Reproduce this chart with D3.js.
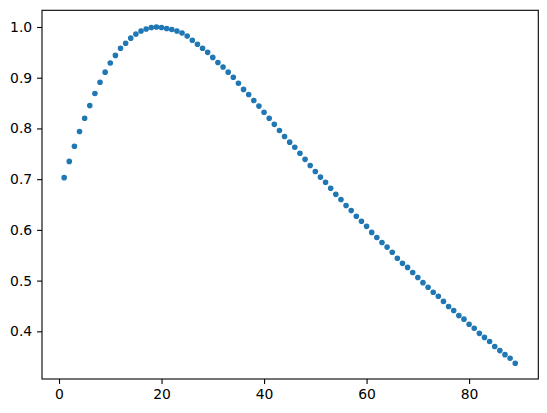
<!DOCTYPE html>
<html>
<head>
<meta charset="utf-8">
<script src="https://cdn.jsdelivr.net/npm/d3@7"></script>
<style>
body { margin: 0; background: #fff; }
svg { display: block; }
</style>
</head>
<body>
<script>
var xValues = [1, 2, 3, 4, 5, 6, 7, 8, 9, 10, 11, 12, 13, 14, 15, 16, 17, 18, 19, 20,
  21, 22, 23, 24, 25, 26, 27, 28, 29, 30, 31, 32, 33, 34, 35, 36, 37, 38, 39, 40,
  41, 42, 43, 44, 45, 46, 47, 48, 49, 50, 51, 52, 53, 54, 55, 56, 57, 58, 59, 60,
  61, 62, 63, 64, 65, 66, 67, 68, 69, 70, 71, 72, 73, 74, 75, 76, 77, 78, 79, 80,
  81, 82, 83, 84, 85, 86, 87, 88, 89];

var yValues = [0.703, 0.735, 0.765, 0.794, 0.820, 0.845, 0.869, 0.891, 0.911, 0.929,
  0.944, 0.958, 0.968, 0.978, 0.986, 0.992, 0.996, 0.999, 1.000, 0.999,
  0.997, 0.995, 0.992, 0.988, 0.982, 0.974, 0.966, 0.958, 0.950, 0.940,
  0.930, 0.921, 0.911, 0.901, 0.889, 0.877, 0.867, 0.855, 0.844, 0.832,
  0.820, 0.808, 0.796, 0.784, 0.773, 0.763, 0.751, 0.739, 0.727, 0.715,
  0.704, 0.694, 0.682, 0.670, 0.660, 0.648, 0.638, 0.627, 0.617, 0.607,
  0.595, 0.585, 0.575, 0.566, 0.556, 0.544, 0.534, 0.526, 0.516, 0.506,
  0.496, 0.487, 0.477, 0.469, 0.459, 0.449, 0.441, 0.431, 0.424, 0.414,
  0.406, 0.396, 0.388, 0.380, 0.370, 0.362, 0.354, 0.347, 0.337];

var xTicks = [0, 20, 40, 60, 80];
var yTicks = [0.4, 0.5, 0.6, 0.7, 0.8, 0.9, 1.0];

var width = 547, height = 413;
// plot box (window.top is taken, so keep names distinct)
var boxLeft = 42, boxRight = 538.3, boxTop = 10.3, boxBottom = 379;

var svg = d3.select("body").append("svg").attr("width", width).attr("height", height);

var x = d3.scaleLinear().domain([-3.32, 93.5]).range([boxLeft, boxRight]);
var y = d3.scaleLinear().domain([0.306, 1.0329]).range([boxBottom, boxTop]);

// axes, matplotlib look (10pt labels, 3.5pt ticks at 100 dpi)
svg.append("g")
  .attr("transform", "translate(0," + boxBottom + ")")
  .call(d3.axisBottom(x).tickValues(xTicks).tickSize(4.9).tickPadding(4.9).tickFormat(d3.format("d")));

svg.append("g")
  .attr("transform", "translate(" + boxLeft + ",0)")
  .call(d3.axisLeft(y).tickValues(yTicks).tickSize(4.9).tickPadding(4.9).tickFormat(d3.format(".1f")));

svg.selectAll(".domain").remove();
svg.selectAll(".tick line").attr("stroke", "#000").attr("stroke-width", 1.1);
svg.selectAll(".tick text")
  .attr("fill", "#000")
  .attr("font-family", "DejaVu Sans")
  .attr("font-size", 13.9);

// frame
svg.append("rect")
  .attr("x", boxLeft)
  .attr("y", boxTop)
  .attr("width", boxRight - boxLeft)
  .attr("height", boxBottom - boxTop)
  .attr("fill", "none")
  .attr("stroke", "#000")
  .attr("stroke-width", 1.1);

svg.selectAll("circle")
  .data(yValues)
  .enter().append("circle")
  .attr("cx", function(d, i){ return x(xValues[i]); })
  .attr("cy", function(d){ return y(d); })
  .attr("r", 2.2)
  .attr("fill", "#1f77b4")
  .attr("stroke", "#1f77b4")
  .attr("stroke-width", 1.2);
</script>
</body>
</html>
